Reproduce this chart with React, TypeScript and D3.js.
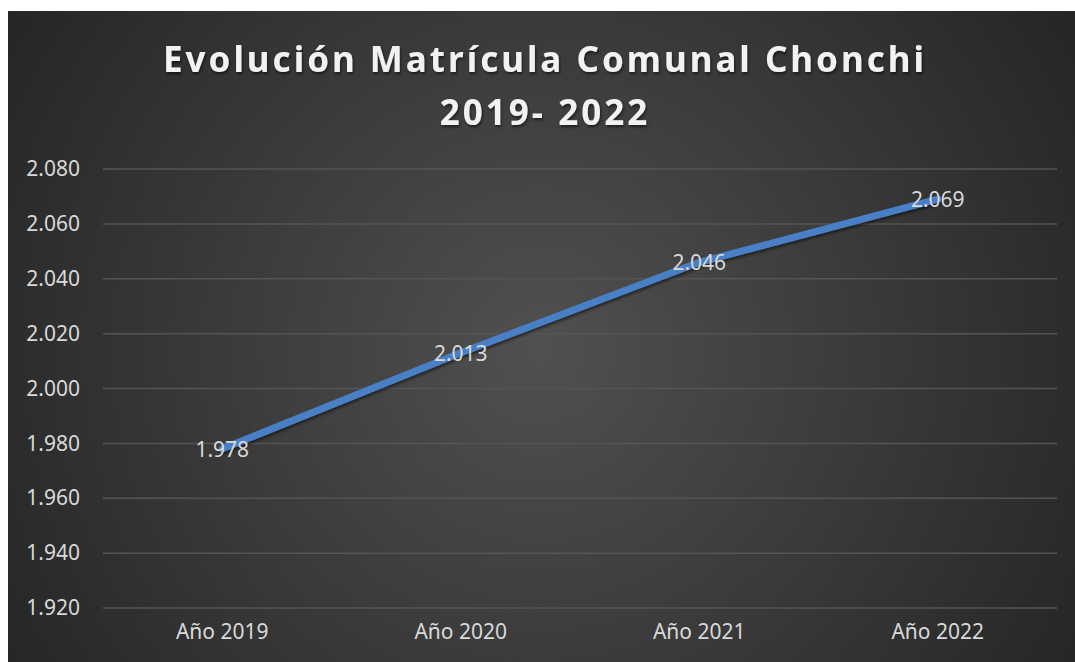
import * as d3 from 'd3';
import { useEffect, useRef } from 'react';

const categories = ['Año 2019', 'Año 2020', 'Año 2021', 'Año 2022'];
const matricula = [1978, 2013, 2046, 2069];
const yTicks = [1920, 1940, 1960, 1980, 2000, 2020, 2040, 2060, 2080];
const titleLines = ['Evolución Matrícula Comunal Chonchi', '2019- 2022'];

const W = 1075;
const H = 662;

const fmt = (v: number) => d3.format(',')(v).replace(/,/g, '.');

export default function App() {
  const ref = useRef<SVGSVGElement>(null);

  useEffect(() => {
    const svg = d3.select(ref.current);
    svg.selectAll('*').remove();

    const margin = { top: 169, right: 18, bottom: 54, left: 103 };
    const width = W - margin.left - margin.right;
    const height = H - margin.top - margin.bottom;

    const defs = svg.append('defs');
    const grad = defs.append('radialGradient')
      .attr('id', 'bg')
      .attr('gradientUnits', 'userSpaceOnUse')
      .attr('cx', 540).attr('cy', 350).attr('r', 620);
    grad.append('stop').attr('offset', '0%').attr('stop-color', '#505050');
    grad.append('stop').attr('offset', '100%').attr('stop-color', '#262626');

    const shadow = defs.append('filter').attr('id', 'shadow')
      .attr('x', '-10%').attr('y', '-30%').attr('width', '120%').attr('height', '160%');
    shadow.append('feDropShadow')
      .attr('dx', 1).attr('dy', 2).attr('stdDeviation', 1.5)
      .attr('flood-color', '#000').attr('flood-opacity', 0.55);

    svg.append('rect')
      .attr('x', 8).attr('y', 11)
      .attr('width', W - 8).attr('height', H - 11)
      .attr('fill', 'url(#bg)');

    // title
    svg.append('g')
      .selectAll('text')
      .data(titleLines)
      .enter()
      .append('text')
      .attr('x', 545)
      .attr('y', (d, i) => 72 + i * 53)
      .attr('text-anchor', 'middle')
      .attr('font-family', 'Noto Sans, sans-serif')
      .attr('font-weight', 'bold')
      .attr('font-size', 35)
      .attr('letter-spacing', 3)
      .attr('fill', '#f2f2f2')
      .attr('filter', 'url(#shadow)')
      .text(d => d);

    const g = svg.append('g')
      .attr('transform', 'translate(' + margin.left + ',' + margin.top + ')');

    const x = d3.scaleBand()
      .domain(categories)
      .range([0, width]);

    const y = d3.scaleLinear()
      .domain([1920, 2080])
      .range([height, 0]);

    // gridlines
    g.append('g')
      .selectAll('line')
      .data(yTicks)
      .enter()
      .append('line')
      .attr('x1', 0).attr('x2', width)
      .attr('y1', d => y(d)).attr('y2', d => y(d))
      .attr('stroke', '#545454')
      .attr('stroke-width', 1.5);

    // y axis labels
    const yAxis = g.append('g')
      .call(d3.axisLeft(y).tickValues(yTicks).tickFormat(d => fmt(d as number)).tickSize(0).tickPadding(23));
    yAxis.select('.domain').remove();
    yAxis.selectAll('text')
      .attr('font-family', 'Noto Sans, sans-serif')
      .attr('font-size', 21)
      .attr('fill', '#d9d9d9');

    // x axis labels
    const xAxis = g.append('g')
      .attr('transform', 'translate(0,' + height + ')')
      .call(d3.axisBottom(x).tickSize(0).tickPadding(16));
    xAxis.select('.domain').remove();
    xAxis.selectAll('text')
      .attr('font-family', 'Noto Sans, sans-serif')
      .attr('font-size', 21)
      .attr('fill', '#d9d9d9');

    // line
    const line = d3.line<number>()
      .x((d, i) => (x(categories[i]) as number) + x.bandwidth() / 2)
      .y(d => y(d));

    g.append('path')
      .datum(matricula)
      .attr('d', line)
      .attr('fill', 'none')
      .attr('stroke', '#4a7fc4')
      .attr('stroke-width', 7)
      .attr('stroke-linecap', 'round')
      .attr('filter', 'url(#shadow)');

    // data labels
    g.append('g')
      .selectAll('text')
      .data(matricula)
      .enter()
      .append('text')
      .attr('x', (d, i) => (x(categories[i]) as number) + x.bandwidth() / 2)
      .attr('y', d => y(d) + 8)
      .attr('text-anchor', 'middle')
      .attr('font-family', 'Noto Sans, sans-serif')
      .attr('font-size', 21)
      .attr('fill', '#d9d9d9')
      .text(d => fmt(d));
  }, []);

  return (
    <svg ref={ref} width={W} height={H} style={{ position: 'absolute', left: 0, top: 0 }} />
  );
}
